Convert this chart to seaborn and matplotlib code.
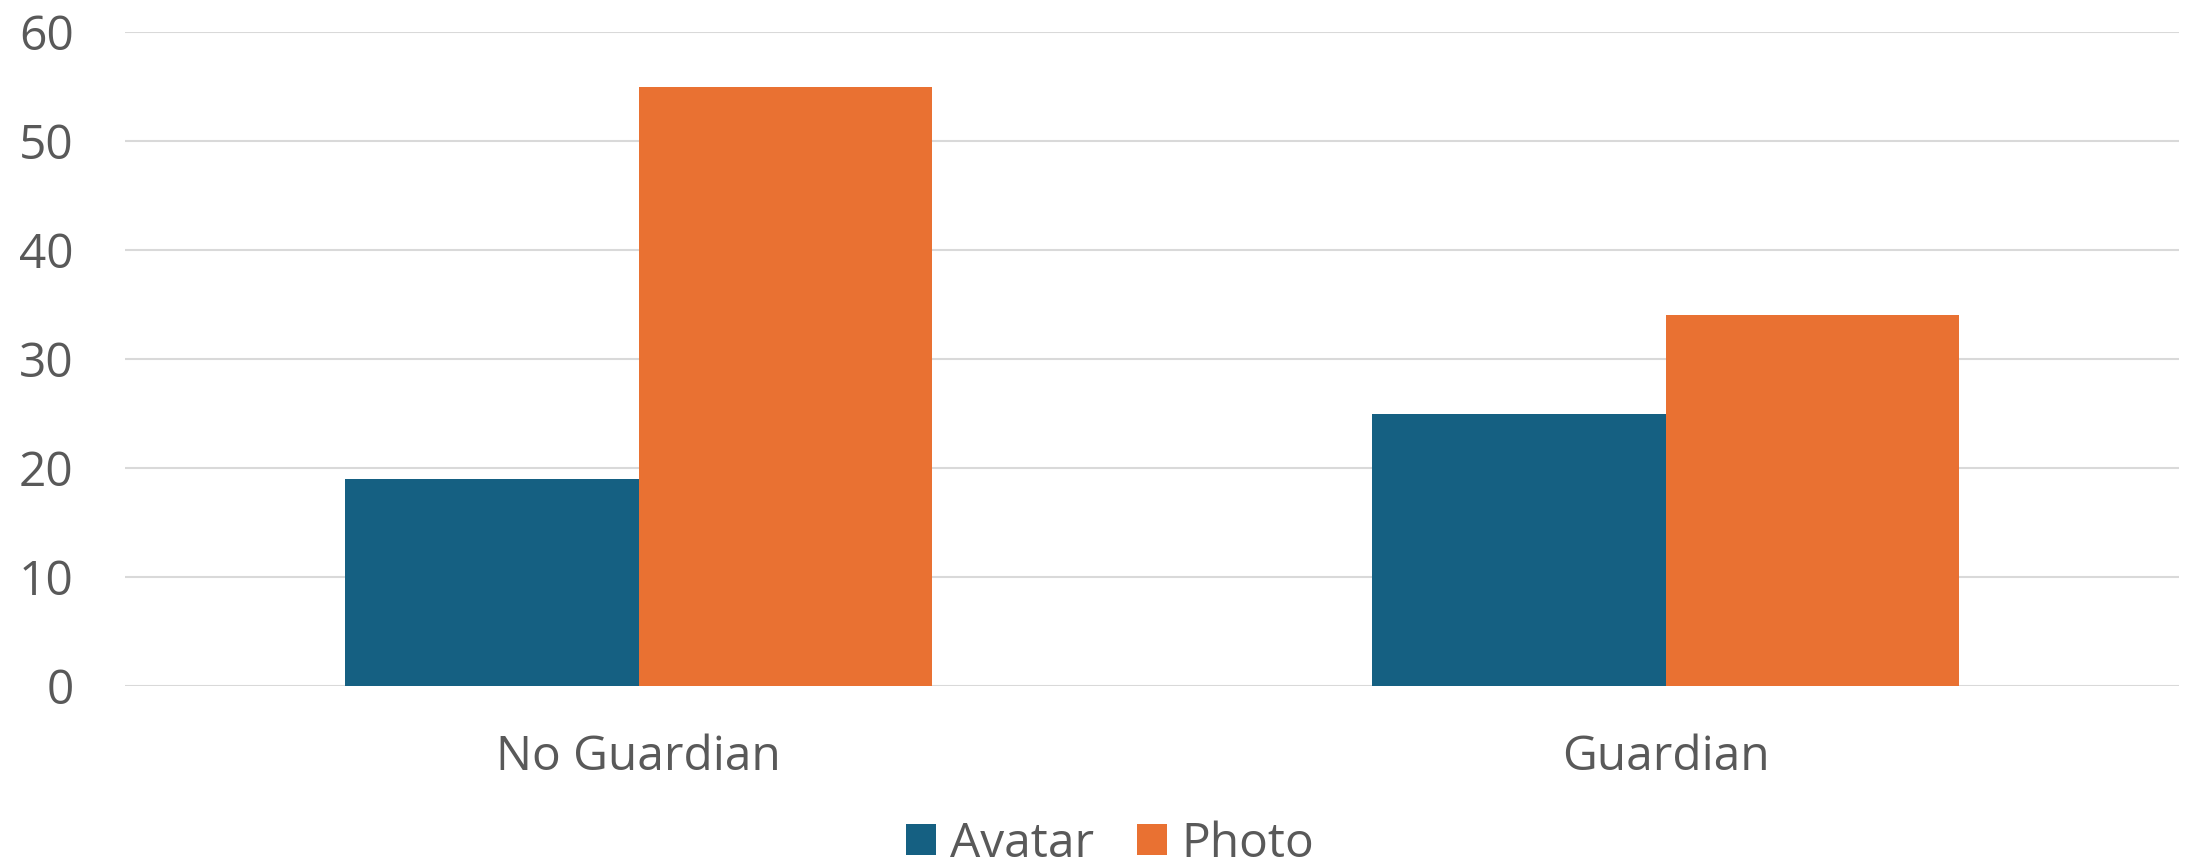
import matplotlib
matplotlib.use("Agg")
import matplotlib.pyplot as plt
import seaborn as sns
import pandas as pd

categories = ["No Guardian", "Guardian"]
series = ["Avatar", "Photo"]
avatar_values = [19, 25]
photo_values = [55, 34]
y_ticks = [0, 10, 20, 30, 40, 50, 60]

colors = {"Avatar": "#156082", "Photo": "#E97132"}
text_color = "#595959"

df = pd.DataFrame({
    "group": categories * 2,
    "series": ["Avatar"] * len(categories) + ["Photo"] * len(categories),
    "value": avatar_values + photo_values,
})

sns.set_theme(style="white")
plt.rcParams["font.family"] = ["Open Sans", "DejaVu Sans"]

DPI = 100
fig = plt.figure(figsize=(2191 / DPI, 864 / DPI), dpi=DPI)
W, H = 2191, 864
ax = fig.add_axes([125 / W, 1 - 686 / H, (2179 - 125) / W, (686 - 32) / H])

sns.barplot(data=df, x="group", y="value", hue="series", order=categories,
            hue_order=series, palette=colors, width=0.571, saturation=1,
            linewidth=0, ax=ax, legend=True)

FS = 34.5
ax.set_ylim(0, 60)
ax.set_xlim(-0.5, 1.5)
ax.set_yticks(y_ticks)
ax.set_yticklabels([str(t) for t in y_ticks])
ax.yaxis.grid(True, color="#D9D9D9", linewidth=1.5)
ax.set_axisbelow(True)
for s in ax.spines.values():
    s.set_visible(False)
ax.tick_params(axis="both", length=0, labelsize=FS, colors=text_color)
ax.tick_params(axis="y", pad=37)
ax.tick_params(axis="x", pad=34)
ax.set_xlabel("")
ax.set_ylabel("")

handles, labels = ax.get_legend_handles_labels()
ax.get_legend().remove()
fig.legend(handles, labels, loc="center", bbox_to_anchor=(1110 / W, 1 - 844 / H),
           ncol=2, frameon=False, fontsize=FS, labelcolor=text_color,
           handlelength=0.62, handleheight=0.62, handletextpad=0.3,
           columnspacing=0.9, borderaxespad=0, borderpad=0)

fig.savefig("out.png", dpi=DPI, facecolor="white")
